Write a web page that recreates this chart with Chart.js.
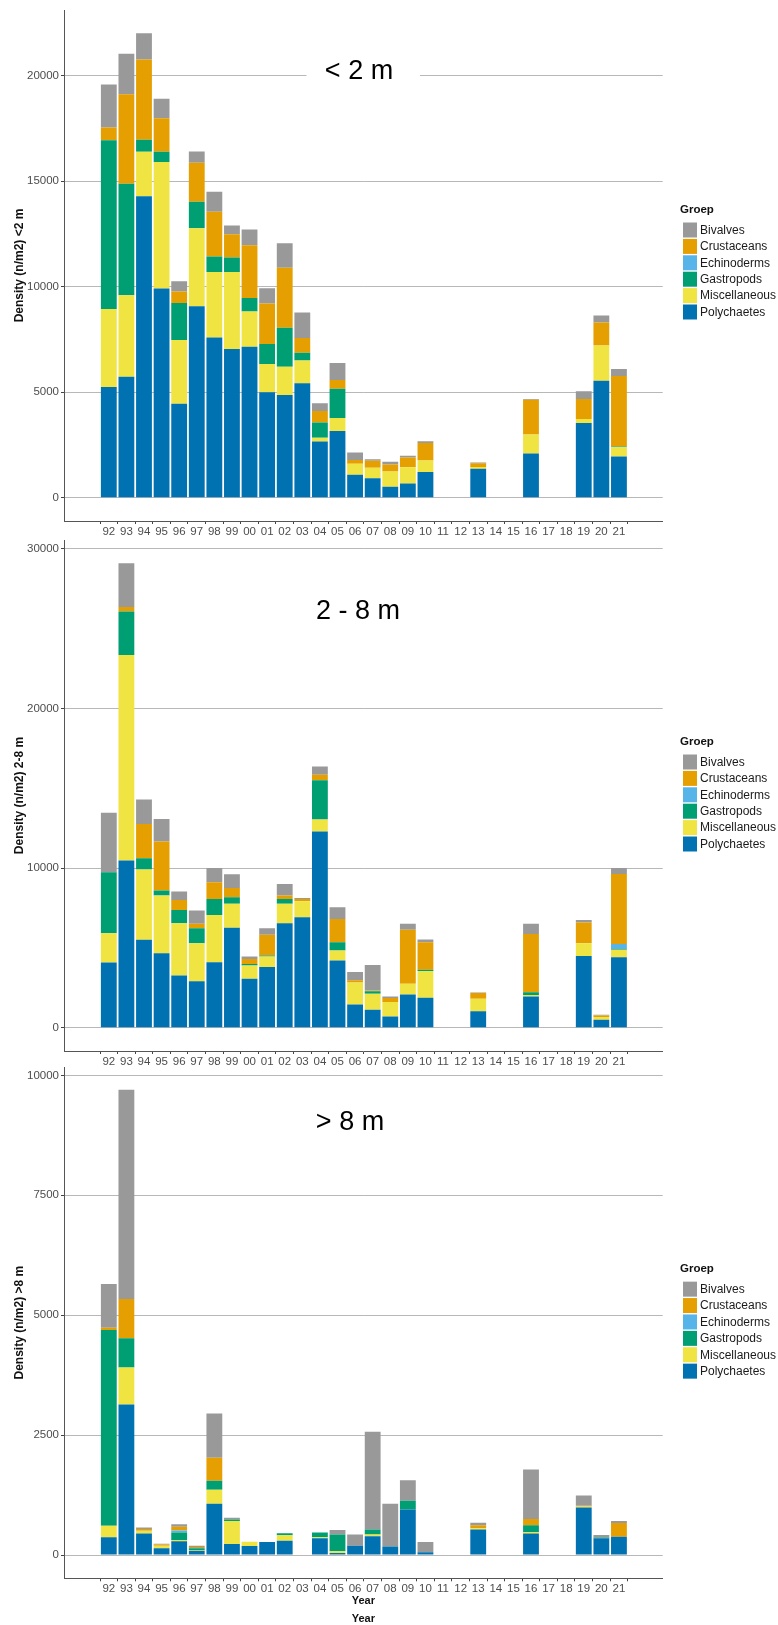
<!DOCTYPE html>
<html>
<head>
<meta charset="utf-8">
<script src="https://cdn.jsdelivr.net/npm/chart.js@4.4.1/dist/chart.umd.min.js"></script>
<style>
  html, body { margin: 0; padding: 0; background: #ffffff; overflow: hidden; }
  .panel { position: absolute; left: 0; }
  canvas { display: block; }
</style>
</head>
<body>
<div class="panel" style="top:0px"><canvas id="chartShallow" width="778" height="540"></canvas></div>
<div class="panel" style="top:530px"><canvas id="chartMid" width="778" height="540"></canvas></div>
<div class="panel" style="top:1057px"><canvas id="chartDeep" width="778" height="573"></canvas></div>
<script>
// Survey years (two-digit labels on the x axis)
const years = ['92','93','94','95','96','97','98','99','00','01','02','03','04','05','06','07','08','09','10','11','12','13','14','15','16','17','18','19','20','21'];

// Species groups, bottom of the stack first
const groups = ['Polychaetes', 'Miscellaneous', 'Gastropods', 'Echinoderms', 'Crustaceans', 'Bivalves'];
const groupColors = ['#0072B2', '#F0E442', '#009E73', '#56B4E9', '#E69F00', '#999999'];

// Density (n/m2), depth < 2 m
const shallowPolychaetes   = [5250,5730,14290,9920,4460,9070,7590,7050,7150,5000,4870,5430,2670,3160,1090,930,520,680,1220,null,null,1380,null,null,2100,null,null,3540,5540,1960];
const shallowMiscellaneous = [3690,3860,2100,5990,3010,3700,3110,3650,1680,1340,1340,1070,180,620,520,490,730,770,550,null,null,80,null,null,900,null,null,190,1680,440];
const shallowGastropods    = [8000,5290,570,490,1760,1260,730,680,640,950,1840,370,720,1390,0,0,0,0,0,null,null,0,null,null,0,null,null,0,0,30];
const shallowEchinoderms   = [0,0,0,0,0,0,0,0,0,0,0,0,0,0,0,0,0,0,0,null,null,0,null,null,0,null,null,0,0,0];
const shallowCrustaceans   = [600,4240,3810,1580,540,1840,2120,1110,2490,1920,2850,700,540,410,180,330,330,460,830,null,null,180,null,null,1650,null,null,950,1080,3340];
const shallowBivalves      = [2040,1920,1240,930,490,540,950,410,750,720,1160,1210,370,810,360,80,130,80,80,null,null,30,null,null,30,null,null,370,340,330];

// Density (n/m2), depth 2 - 8 m
const midPolychaetes   = [4090,10470,5510,4670,3270,2920,4110,6260,3070,3800,6550,6920,12300,4210,1460,1130,710,2090,1880,null,null,1040,null,null,1960,null,null,4500,500,4420];
const midMiscellaneous = [1830,12870,4400,3610,3280,2380,2960,1500,830,660,1210,1000,750,630,1380,1000,900,670,1670,null,null,770,null,null,100,null,null,790,170,460];
const midGastropods    = [3820,2730,710,310,830,940,1000,420,100,60,310,0,2460,520,0,150,0,0,80,null,null,0,null,null,170,null,null,0,0,60];
const midEchinoderms   = [0,0,0,0,0,0,0,0,0,0,0,0,0,0,0,0,0,0,0,null,null,0,null,null,0,null,null,0,0,310];
const midCrustaceans   = [0,290,2150,3070,630,270,1040,580,310,1310,210,150,330,1460,130,60,250,3380,1730,null,null,360,null,null,3650,null,null,1310,100,4380];
const midBivalves      = [3730,2730,1520,1420,520,830,900,860,150,400,730,60,520,730,520,1590,100,380,170,null,null,40,null,null,630,null,null,150,40,380];

// Density (n/m2), depth > 8 m
const deepPolychaetes   = [370,3140,450,140,290,90,1070,230,190,270,300,null,350,40,195,390,180,950,60,null,null,530,null,null,450,null,null,990,350,380];
const deepMiscellaneous = [240,770,55,55,25,15,290,480,85,0,110,null,20,40,0,40,0,0,0,null,null,30,null,null,30,null,null,20,0,0];
const deepGastropods    = [4080,610,0,0,155,35,190,30,0,0,45,null,100,350,0,100,0,180,0,null,null,0,null,null,140,null,null,0,15,0];
const deepEchinoderms   = [0,0,0,0,40,0,0,0,0,0,0,null,0,0,0,0,0,0,0,null,null,0,null,null,0,null,null,0,0,0];
const deepCrustaceans   = [50,820,40,25,80,30,480,0,0,0,0,null,0,0,0,0,0,0,0,null,null,60,null,null,130,null,null,20,0,290];
const deepBivalves      = [910,4360,30,15,50,25,920,35,0,0,0,null,0,90,235,2040,890,430,210,null,null,55,null,null,1035,null,null,210,55,40];

// y-axis tick values per panel
const shallowTicks = [0, 5000, 10000, 15000, 20000];
const midTicks = [0, 10000, 20000, 30000];
const deepTicks = [0, 2500, 5000, 7500, 10000];

Chart.defaults.font.family = "'Liberation Sans', Arial, Helvetica, sans-serif";
Chart.defaults.animation = false;

// Panel heading plus the "Groep" legend, drawn on top of the plot
const panelDecor = {
  id: 'panelDecor',
  afterDraw(chart, args, opts) {
    const ctx = chart.ctx;
    const area = chart.chartArea;
    ctx.save();
    if (opts.box) {
      ctx.fillStyle = '#ffffff';
      ctx.fillRect(opts.box[0], opts.box[1], opts.box[2], opts.box[3]);
    }
    ctx.fillStyle = '#000000';
    ctx.font = opts.headingSize + "px 'Liberation Sans', Arial, sans-serif";
    ctx.textAlign = 'center';
    ctx.textBaseline = 'middle';
    ctx.fillText(opts.heading, opts.headingX, opts.headingY);

    // legend
    const mid = (area.top + area.bottom) / 2 + (opts.legendShift || 0);
    const lx = 680;
    ctx.textAlign = 'left';
    ctx.font = "bold 11.5px 'Liberation Sans', Arial, sans-serif";
    ctx.fillStyle = '#111111';
    ctx.fillText('Groep', lx, mid - 53.5);
    const ds = chart.data.datasets.slice().reverse();
    ctx.font = "12px 'Liberation Sans', Arial, sans-serif";
    ds.forEach((d, i) => {
      const y = mid - 33.5 + i * 16.4;
      ctx.fillStyle = d.backgroundColor;
      ctx.fillRect(lx + 3, y - 7.5, 14, 15);
      ctx.fillStyle = '#1a1a1a';
      ctx.fillText(d.label, lx + 20, y + 0.5);
    });
    ctx.restore();
  }
};

function buildChart(canvasId, series, yMin, yMax, yTicks, yTitle, xAxisHeight, xTitle, decor) {
  const datasets = groups.map((g, k) => ({
    label: g,
    data: series[k].map((v, i) => ({ x: i, y: v })),
    backgroundColor: groupColors[k],
    borderWidth: 0,
    categoryPercentage: 1.0,
    barPercentage: 0.9
  }));
  return new Chart(document.getElementById(canvasId), {
    type: 'bar',
    data: { datasets },
    plugins: [panelDecor],
    options: {
      responsive: false,
      devicePixelRatio: 1,
      layout: { padding: { top: 10, left: 0, right: 115.3, bottom: 0 } },
      plugins: {
        legend: { display: false },
        tooltip: { enabled: false },
        panelDecor: decor
      },
      scales: {
        x: {
          type: 'linear',
          stacked: true,
          min: -1.98,
          max: 30.92,
          afterBuildTicks: s => { s.ticks = years.map((_, i) => ({ value: i })); },
          afterFit: s => { s.height = xAxisHeight; },
          ticks: {
            autoSkip: false, maxRotation: 0, minRotation: 0, padding: 1,
            color: '#4d4d4d', font: { size: 11.5 },
            callback: v => years[Math.round(v)] ?? ''
          },
          grid: { drawOnChartArea: false, drawTicks: true, tickLength: 3, color: '#444444', tickColor: '#444444' },
          border: { display: true, color: '#555555', width: 1 },
          title: xTitle
        },
        y: {
          stacked: true,
          min: yMin,
          max: yMax,
          afterBuildTicks: s => { s.ticks = yTicks.map(v => ({ value: v })); },
          afterFit: s => { s.width = 64; },
          ticks: { color: '#4d4d4d', font: { size: 11.5 }, padding: 2, callback: v => String(v) },
          grid: { color: '#b8b8b8', lineWidth: 1, tickLength: 3, tickColor: '#444444' },
          border: { display: true, color: '#555555', width: 1 },
          title: {
            display: true, text: yTitle, color: '#111111',
            font: { size: 12, weight: 'bold' }, padding: { top: 12, bottom: 0 }
          }
        }
      }
    }
  });
}

buildChart('chartShallow',
  [shallowPolychaetes, shallowMiscellaneous, shallowGastropods, shallowEchinoderms, shallowCrustaceans, shallowBivalves],
  -1100, 23110, shallowTicks, 'Density (n/m2) <2 m', 19, { display: false },
  { heading: '< 2 m', headingX: 359, headingY: 72, headingSize: 27, box: [306.5, 56, 113.4, 30], legendShift: -2 });

buildChart('chartMid',
  [midPolychaetes, midMiscellaneous, midGastropods, midEchinoderms, midCrustaceans, midBivalves],
  -1455, 30550, midTicks, 'Density (n/m2) 2-8 m', 19, { display: false },
  { heading: '2 - 8 m', headingX: 358, headingY: 82, headingSize: 27, legendShift: 0 });

buildChart('chartDeep',
  [deepPolychaetes, deepMiscellaneous, deepGastropods, deepEchinoderms, deepCrustaceans, deepBivalves],
  -485, 10175, deepTicks, 'Density (n/m2) >8 m', 51.7,
  { display: true, text: ['Year', 'Year'], color: '#111111', font: { size: 11, weight: 'bold', lineHeight: 1.64 }, padding: { top: 0, bottom: 2 } },
  { heading: '> 8 m', headingX: 350, headingY: 66, headingSize: 27, legendShift: 0 });
</script>
</body>
</html>
